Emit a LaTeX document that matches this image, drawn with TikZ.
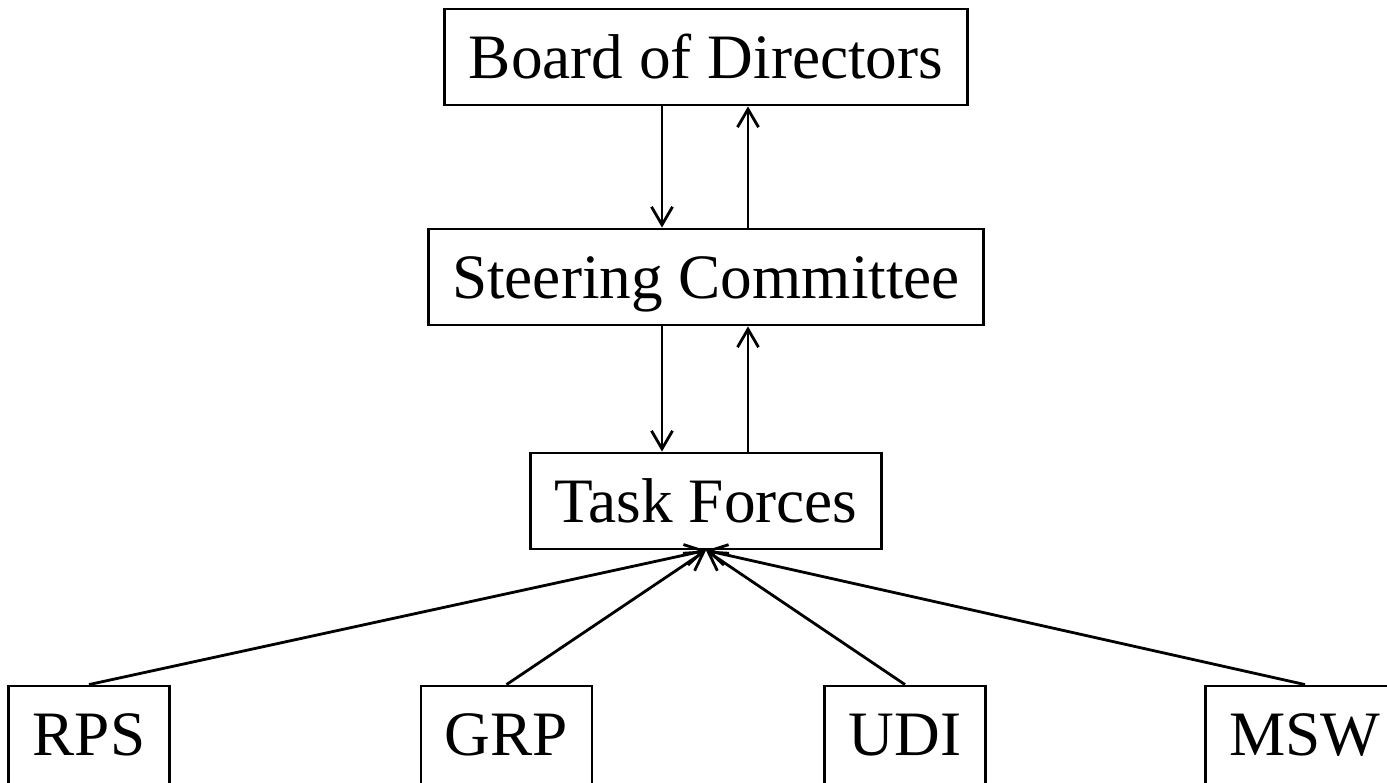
\documentclass[tikz,border=0pt]{standalone}
\usepackage{fontspec}
\setmainfont{Liberation Serif}
\usetikzlibrary{arrows.meta}
\begin{document}
\begin{tikzpicture}[
  orgbox/.style={draw, line width=0.8pt, anchor=base, inner xsep=0.24cm, inner ysep=0pt,
    text height=0.70cm, text depth=0.26cm, font=\fontsize{18pt}{20pt}\selectfont},
  leafbox/.style={orgbox, text depth=0.36cm},
  link/.style={line width=0.8pt, -{Straight Barb[length=0.18cm,width=0.21cm,line width=0.8pt]}}
]
\useasboundingbox (0,0) rectangle (13.87,-7.83);
\node[orgbox] (bod) at (7.06,-0.79) {Board of Directors};
\node[orgbox] (sc) at (7.06,-2.99) {Steering Committee};
\node[orgbox] (tf) at (7.06,-5.23) {Task Forces};
\node[leafbox] (rps) at (0.89,-7.56) {RPS};
\node[leafbox] (grp) at (5.065,-7.56) {GRP};
\node[leafbox] (udi) at (9.05,-7.56) {UDI};
\node[leafbox] (msw) at (13.05,-7.56) {MSW};
\coordinate (d1) at (6.62,0);
\coordinate (u1) at (7.48,0);
\draw[link] (bod.south -| d1) -- (sc.north -| d1);
\draw[link] (sc.north -| u1) -- (bod.south -| u1);
\draw[link] (sc.south -| d1) -- (tf.north -| d1);
\draw[link] (tf.north -| u1) -- (sc.south -| u1);
\draw[link] (rps.north) -- (tf.south);
\draw[link] (grp.north) -- (tf.south);
\draw[link] (udi.north) -- (tf.south);
\draw[link] (msw.north) -- (tf.south);
\end{tikzpicture}
\end{document}
